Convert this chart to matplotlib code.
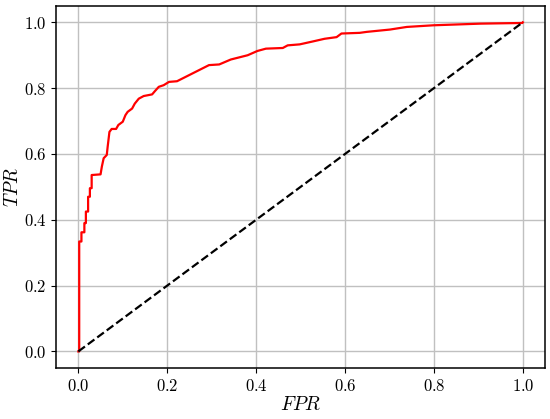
import matplotlib

matplotlib.use("Agg")
import matplotlib.pyplot as plt

# ROC curve points
fpr = [0.0, 0.002, 0.002, 0.007, 0.007, 0.0136, 0.0136, 0.017, 0.017, 0.022, 0.022,
       0.026, 0.026, 0.030, 0.030, 0.050, 0.053, 0.057, 0.064, 0.066, 0.070, 0.075,
       0.085, 0.090, 0.100, 0.106, 0.111, 0.121, 0.127, 0.136, 0.147, 0.166, 0.173,
       0.181, 0.192, 0.204, 0.222, 0.294, 0.317, 0.343, 0.381, 0.403, 0.422, 0.460,
       0.471, 0.498, 0.528, 0.554, 0.581, 0.592, 0.633, 0.649, 0.701, 0.739, 0.799,
       0.905, 0.999, 1.0]
tpr = [0.0, 0.0, 0.334, 0.334, 0.362, 0.362, 0.39, 0.39, 0.425, 0.425, 0.47,
       0.47, 0.496, 0.496, 0.536, 0.538, 0.562, 0.587, 0.597, 0.622, 0.667, 0.676,
       0.676, 0.688, 0.698, 0.718, 0.728, 0.738, 0.753, 0.768, 0.776, 0.781, 0.792,
       0.804, 0.809, 0.819, 0.821, 0.870, 0.872, 0.887, 0.900, 0.913, 0.920, 0.922,
       0.930, 0.933, 0.942, 0.950, 0.955, 0.966, 0.968, 0.971, 0.978, 0.986, 0.991,
       0.996, 0.998, 1.0]
diag = [0.0, 1.0]

plt.rcParams["font.family"] = "cmr10"
plt.rcParams["mathtext.fontset"] = "cm"
plt.rcParams["axes.formatter.use_mathtext"] = True

fig = plt.figure(figsize=(5.5, 4.19), dpi=100)
ax = fig.add_axes([0.102, 0.122, 0.889, 0.864])

ax.plot(fpr, tpr, color="red", linewidth=1.6, zorder=3)
ax.plot(diag, diag, color="black", linestyle="--", linewidth=1.6, zorder=3)

ax.set_xticks([0.0, 0.2, 0.4, 0.6, 0.8, 1.0])
ax.set_yticks([0.0, 0.2, 0.4, 0.6, 0.8, 1.0])
ax.tick_params(labelsize=12)
ax.set_xlabel("$FPR$", fontsize=14, labelpad=2)
ax.set_ylabel("$TPR$", fontsize=14)
ax.yaxis.set_label_coords(-0.07, 0.5)
ax.grid(True, color="#c0c0c0", linewidth=1)
ax.set_axisbelow(True)
for spine in ax.spines.values():
    spine.set_linewidth(1.1)

fig.savefig("out.png", dpi=100)
